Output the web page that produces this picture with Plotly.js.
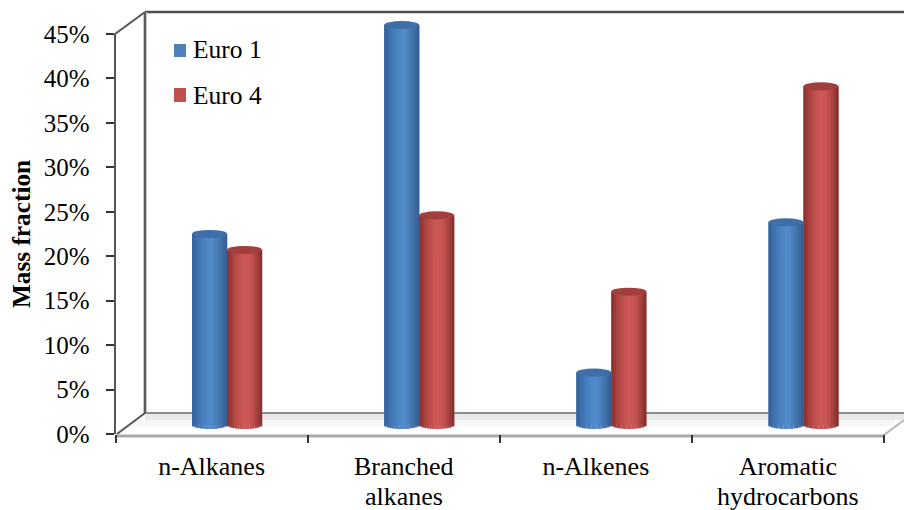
<!DOCTYPE html>
<html>
<head>
<meta charset="utf-8">
<script src="https://cdn.plot.ly/plotly-3.0.1.min.js"></script>
<style>html,body{margin:0;padding:0;background:#fff}</style>
</head>
<body>
<div id="chart" style="width:904px;height:510px"></div>
<script>
// Mass fraction of hydrocarbon groups, Euro 1 versus Euro 4
const categories = ["n-Alkanes", "Branched", "n-Alkenes", "Aromatic"];
const categorySecondLines = ["", "alkanes", "", "hydrocarbons"];
const seriesNames = ["Euro 1", "Euro 4"];
const euro1 = [21.5, 45.0, 5.9, 22.8];
const euro4 = [19.7, 23.6, 15.0, 38.1];
const percentTicks = [0, 5, 10, 15, 20, 25, 30, 35, 40, 45];
const blue = "#4f81bd", red = "#c0504d";

const W = 904, H = 510;
const px = x => x / W, py = y => 1 - y / H;
const FONT = "'Liberation Serif','Times New Roman',serif";

// Cylinder geometry, in axis units
const barWidth = 35 / 192.25;
const depthShift = 15.5 / 192.25;
const capHalf = 4 / (400 / 45);
const catX = categories.map((_, i) => i);

const blueRamp = ["#35639b","#3a6ba6","#3f73b0","#4479b8","#487fbf","#4c84c5","#5088ca","#528aca","#5087c6","#4c81be","#477ab5","#4272ab","#3c69a0","#365f94"];
const redRamp  = ["#8b3331","#9a3b39","#a84240","#b44946","#bd4e4b","#c55250","#cb5653","#cd5856","#ca5653","#c35250","#b84c49","#aa4442","#9a3b39","#883230"];

function cylinder(name, values, color, ramp, side) {
  const left = catX.map(c => c + depthShift + (side ? 0 : -barWidth));
  const traces = [{
    type: "bar", name, x: catX, y: values, xaxis: "x", yaxis: "y2",
    width: barWidth, offset: left.map((l, i) => l - catX[i]),
    marker: { color, line: { width: 0 } },
    showlegend: false, hoverinfo: "skip"
  }];
  // Narrow strips shade the body and round off its foot
  const n = ramp.length, w = barWidth / n;
  ramp.forEach((c, s) => {
    const u = ((s + 0.5) / n) * 2 - 1;
    const foot = capHalf * Math.sqrt(1 - u * u);
    traces.push({
      type: "bar", x: catX, y: values.map(v => v + foot), base: catX.map(() => -foot),
      xaxis: "x", yaxis: "y2", width: w * 1.08,
      offset: left.map((l, i) => l - catX[i] + s * w),
      marker: { color: c, line: { width: 0 } },
      showlegend: false, hoverinfo: "skip"
    });
  });
  return traces;
}

function caps(values, fill, side) {
  return values.map((v, i) => {
    const l = catX[i] + depthShift + (side ? 0 : -barWidth);
    return {
      type: "circle", xref: "x", yref: "y2", layer: "above",
      x0: l, x1: l + barWidth, y0: v - capHalf, y1: v + capHalf,
      fillcolor: fill, line: { width: 0 }
    };
  });
}

const seg = (x0, y0, x1, y1, color, width) => ({
  type: "line", xref: "paper", yref: "paper", layer: "below",
  x0: px(x0), y0: py(y0), x1: px(x1), y1: py(y1),
  line: { color, width }
});
const box = (x0, y0, x1, y1, fill, layer) => ({
  type: "rect", xref: "paper", yref: "paper", layer: layer || "below",
  x0: px(x0), y0: py(y0), x1: px(x1), y1: py(y1),
  fillcolor: fill, line: { width: 0 }
});

// Walls and floor of the box the cylinders stand in
const frame = [
  box(145, 414, 904, 420, "#e9e9e9"),
  box(132, 420, 895, 426, "#f6f6f6"),
  seg(145, 12, 904, 12, "#d6d6d6", 4),
  seg(145, 12, 904, 12, "#4d4d4d", 2),
  seg(145, 12, 145, 413, "#c9c9c9", 4),
  seg(145, 12, 145, 413, "#5a5a5a", 2),
  seg(115, 34, 145, 12, "#555555", 2),
  seg(117, 434, 145, 413, "#555555", 2),
  seg(145, 413, 904, 413, "#666666", 1.6),
  seg(884, 435, 904, 420, "#b5b5b5", 2),
  seg(116, 436, 885, 436, "#a9a9a9", 3)
];

// Key in the upper left of the box
const keySwatches = [box(174, 44, 186, 57, blue, "above"), box(174, 88, 186, 102, red, "above")];
const keyLabels = seriesNames.map((text, i) => ({
  text, xref: "paper", yref: "paper", x: px(191), y: py(50 + i * 45),
  xanchor: "left", yanchor: "middle", showarrow: false,
  font: { family: FONT, size: 25.5, color: "#000" }
}));

// Two-line category names sit closer together than the default line spacing
const secondLines = categorySecondLines.map((text, i) => ({
  text, xref: "x", yref: "paper", x: catX[i], y: py(496),
  xanchor: "center", yanchor: "middle", showarrow: false,
  font: { family: FONT, size: 26, color: "#000" }
})).filter(a => a.text);

const data = [
  // Carries the value axis on its own subplot
  { type: "scatter", mode: "none", x: catX, y: euro1, xaxis: "x", yaxis: "y", showlegend: false, hoverinfo: "skip" },
  ...cylinder(seriesNames[0], euro1, blue, blueRamp, 0),
  ...cylinder(seriesNames[1], euro4, red, redRamp, 1)
];

const layout = {
  width: W, height: H,
  margin: { l: 0, r: 0, t: 0, b: 0 },
  paper_bgcolor: "#fff", plot_bgcolor: "rgba(0,0,0,0)",
  barmode: "overlay",
  showlegend: false,
  font: { family: FONT, size: 25, color: "#000" },
  xaxis: {
    domain: [px(115.5), px(884)], range: [-0.5, 3.5], anchor: "y",
    tickmode: "array", tickvals: catX, ticktext: categories,
    ticks: "", showgrid: false, zeroline: false, showline: false,
    ticklabelstandoff: 14, tickangle: 0, tickfont: { family: FONT, size: 26 },
    minor: { tickmode: "array", tickvals: [-0.5, 0.5, 1.5, 2.5, 3.5], ticks: "outside", ticklen: 8, tickwidth: 2, tickcolor: "#333", showgrid: false }
  },
  yaxis: {
    domain: [py(434), py(34)], range: [0, 45], anchor: "x",
    tickmode: "array", tickvals: percentTicks, ticktext: percentTicks.map(t => t + "%"),
    ticks: "outside", ticklen: 8, tickwidth: 2, tickcolor: "#333",
    showline: true, linecolor: "#555", linewidth: 2,
    showgrid: false, zeroline: false, ticklabelstandoff: 11,
    tickfont: { family: FONT, size: 25 },
    title: { text: "<b>Mass fraction</b>", font: { family: FONT, size: 25.3 }, standoff: 6 }
  },
  // Cylinders stand slightly in front of the wall, so their zero sits above the axis zero
  yaxis2: {
    domain: [py(434), py(10)], range: [-(434 - 425) / (400 / 45), (425 - 10) / (400 / 45)],
    anchor: "x", visible: false, showgrid: false, zeroline: false
  },
  annotations: [...keyLabels, ...secondLines],
  shapes: [
    ...frame,
    ...keySwatches,
    ...caps(euro1, "#3f6ea8", 0),
    ...caps(euro4, "#a23f3d", 1)
  ]
};

Plotly.newPlot("chart", data, layout, { displayModeBar: false, staticPlot: true });
</script>
</body>
</html>
